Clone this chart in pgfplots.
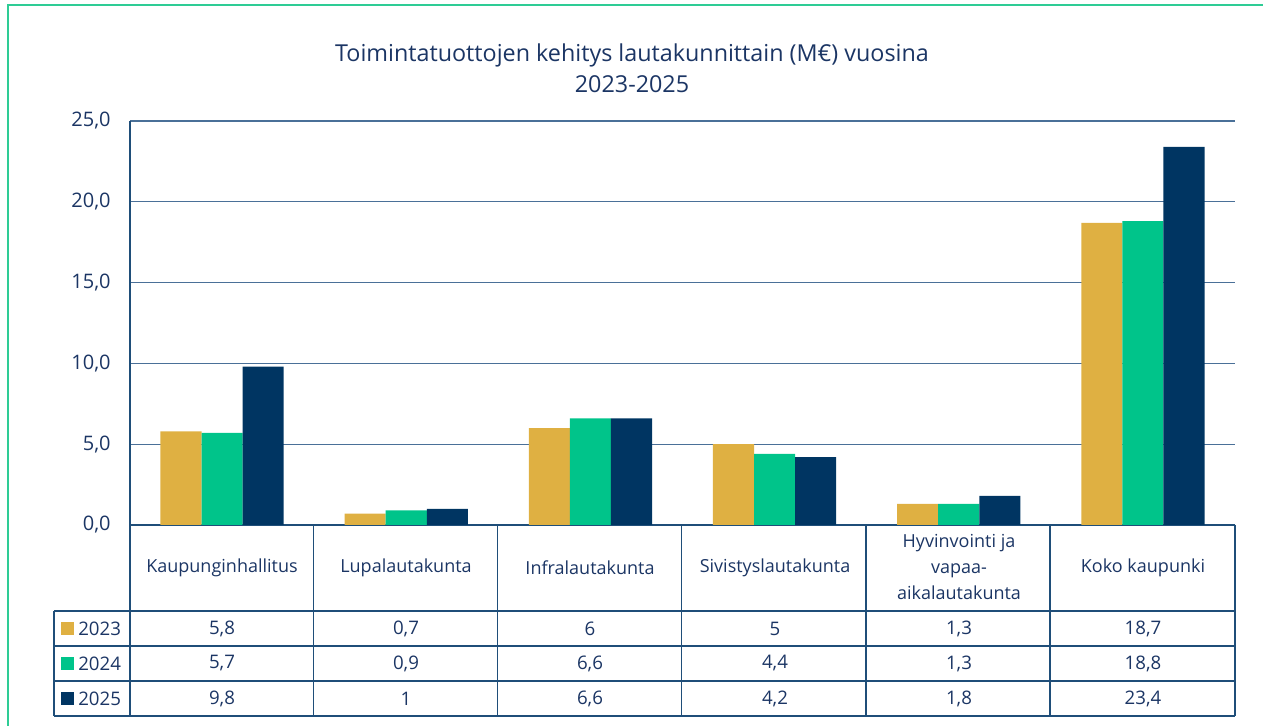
\documentclass[border=0pt]{standalone}
\usepackage{pgfplots}
\pgfplotsset{compat=1.18}
\usepackage{fontspec}
\setmainfont{Open Sans}
\definecolor{gold}{HTML}{DFB042}
\definecolor{grn}{HTML}{00C48A}
\definecolor{navy}{HTML}{003562}
\definecolor{txt}{HTML}{1B3564}
\definecolor{frame}{HTML}{2ECC95}
\definecolor{gridc}{HTML}{4A7098}
\definecolor{tline}{HTML}{1F4E79}
\newcommand{\lab}{\fontsize{13.5}{19.5}\selectfont}
\newcommand{\val}{\fontsize{14}{19.5}\selectfont}
\begin{document}
\begin{tikzpicture}
\path[use as bounding box] (0,0) rectangle (947.25pt,543.75pt);
\begin{axis}[
  at={(97.5pt,150pt)}, anchor=south west,
  scale only axis, width=828.75pt, height=303pt,
  xmin=-0.5, xmax=5.5, ymin=0, ymax=25,
  ytick={0,5,...,25}, xtick=\empty,
  ybar=0pt, bar width=0.223,
  axis lines*=left,
  axis line style={tline, line width=1.1pt},
  ymajorgrids, grid style={gridc, line width=1pt},
  major tick length=0pt,
  yticklabel style={font=\fontsize{15}{18}\selectfont, text=txt, xshift=-11pt},
  /pgf/number format/.cd, use comma, fixed, fixed zerofill, precision=1, assume math mode=true,
]
\addplot[fill=gold, draw=none] coordinates {(0,5.8) (1,0.7) (2,6) (3,5) (4,1.3) (5,18.7)};
\addplot[fill=grn, draw=none] coordinates {(0,5.7) (1,0.9) (2,6.6) (3,4.4) (4,1.3) (5,18.8)};
\addplot[fill=navy, draw=none] coordinates {(0,9.8) (1,1) (2,6.6) (3,4.2) (4,1.8) (5,23.4)};
\end{axis}
\begin{scope}[x=0.75pt, y=-0.75pt, yshift=543.75pt]
  % frame
  \draw[frame, line width=1pt] (8,730) -- (8,5) -- (1270,5);
  % title
  \node[text=txt, align=center, font=\fontsize{17.5}{23}\selectfont] at (632,68)
    {Toimintatuottojen kehitys lautakunnittain (M€) vuosina\\2023-2025};
  % table lines
  \begin{scope}[tline, line width=1.1pt]
    \draw (130,525) -- (130,716);
    \foreach \xx in {313.3,497.5,681.7,865.8,1050,1235} \draw (\xx,525) -- (\xx,716);
    \draw (54,611) -- (1235,611);
    \draw (54,646) -- (1235,646);
    \draw (54,681) -- (1235,681);
    \draw (54,716) -- (1235,716);
    \draw (54,611) -- (54,716);
    \draw (1235,525) -- (1235,716);
  \end{scope}
  % header labels
  \begin{scope}[every node/.style={text=txt, font=\lab, align=center}]
    \node at (222,568) {Kaupunginhallitus};
    \node at (406,568) {Lupalautakunta};
    \node at (590,568) {Infralautakunta};
    \node at (775,568) {Sivistyslautakunta};
    \node at (959,567) {Hyvinvointi ja\\vapaa-\\aikalautakunta};
    \node at (1143,568) {Koko kaupunki};
  \end{scope}
  \begin{scope}[every node/.style={text=txt, font=\val, align=center}]
    % legend column
    \fill[gold] (61,622) rectangle (74,635);
    \fill[grn] (61,657) rectangle (74,670);
    \fill[navy] (61,692) rectangle (74,705);
    \node[anchor=west, inner sep=0pt] at (78,628.5) {2023};
    \node[anchor=west, inner sep=0pt] at (78,663.5) {2024};
    \node[anchor=west, inner sep=0pt] at (78,698.5) {2025};
    % values
    \foreach \xx/\a/\b/\c in {222/{5,8}/{5,7}/{9,8}, 406/{0,7}/{0,9}/1, 590/6/{6,6}/{6,6}, 775/5/{4,4}/{4,2}, 959/{1,3}/{1,3}/{1,8}, 1143/{18,7}/{18,8}/{23,4}} {
      \node at (\xx,628.5) {\a};
      \node at (\xx,663.5) {\b};
      \node at (\xx,698.5) {\c};
    }
  \end{scope}
\end{scope}
\end{tikzpicture}
\end{document}
